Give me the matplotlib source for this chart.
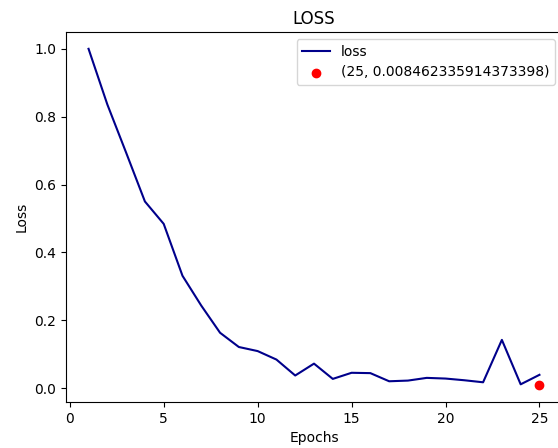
import matplotlib
matplotlib.use("Agg")
import matplotlib.pyplot as plt

# Loss values
epochs = list(range(1, 26))
loss = [1.0, 0.836, 0.694, 0.55, 0.484, 0.331, 0.243, 0.163, 0.121, 0.109,
        0.084, 0.037, 0.072, 0.027, 0.045, 0.044, 0.020, 0.022, 0.030, 0.028,
        0.023, 0.017, 0.142, 0.011, 0.039]
best_epoch = 25
best_loss = 0.008462335914373398

fig = plt.figure(figsize=(5.58, 4.48), dpi=100)
ax = fig.add_axes([66 / 558, 46 / 448, (562 - 66) / 558, (402 - 32) / 448])

ax.plot(epochs, loss, color='darkblue', label='loss')
ax.scatter(best_epoch, best_loss, color='red', label=str((best_epoch, best_loss)))

ax.set_title('LOSS')
ax.set_xlabel('Epochs')
ax.set_ylabel('Loss')
ax.legend(loc='upper right')

fig.savefig('out.png', dpi=100)
